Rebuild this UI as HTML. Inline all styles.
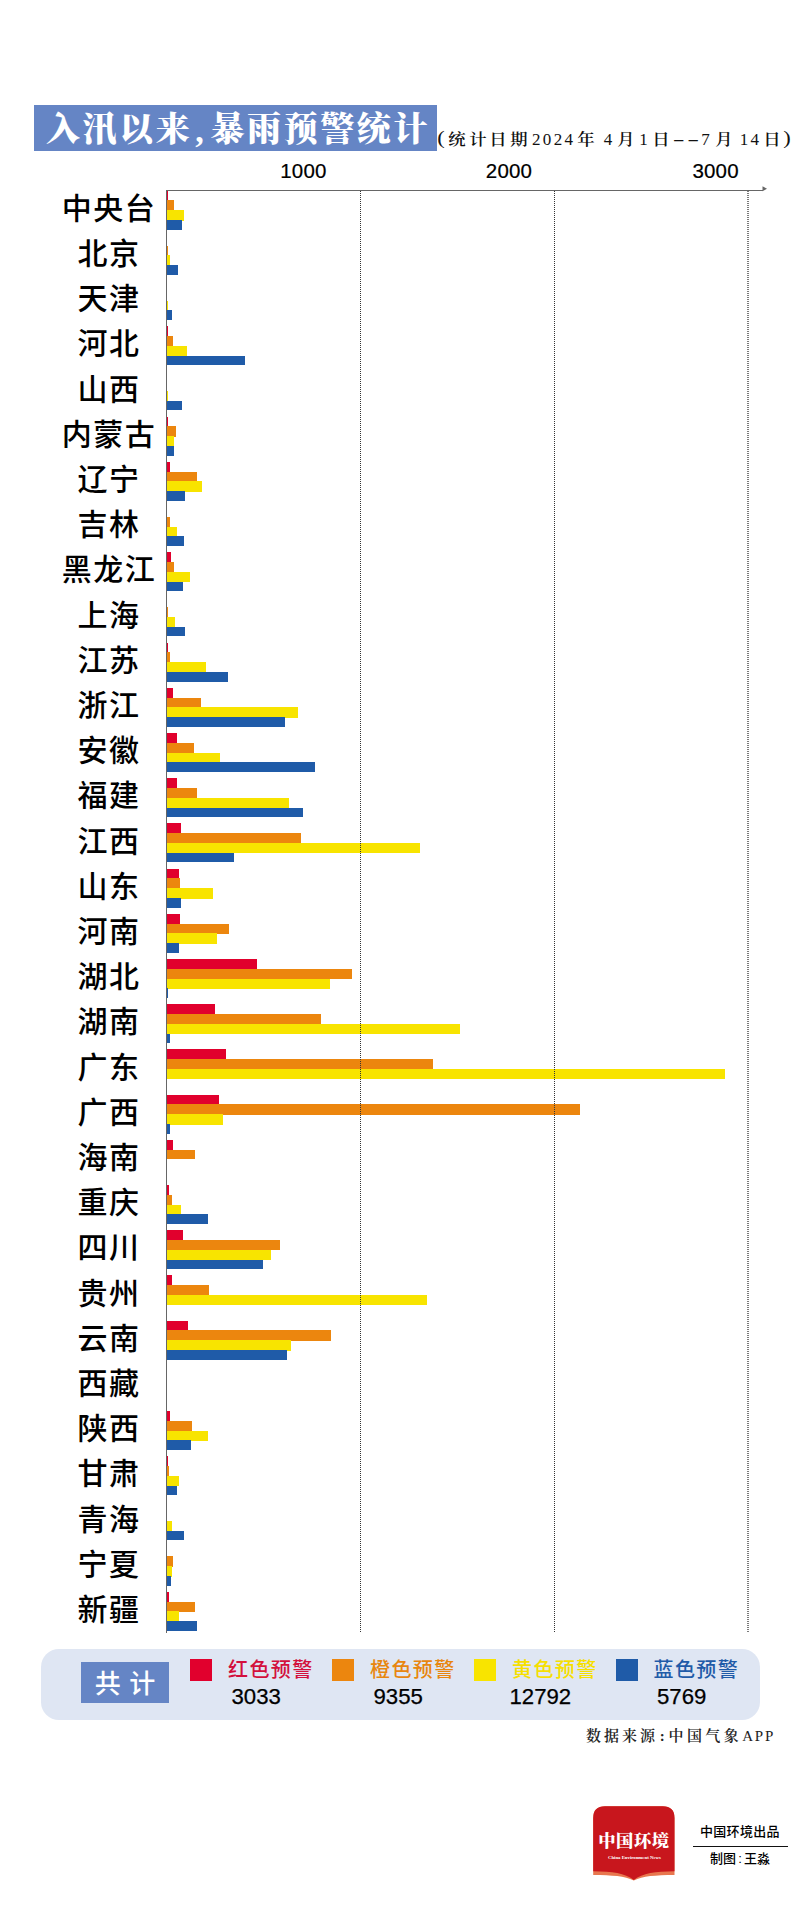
<!DOCTYPE html><html><head><meta charset="utf-8"><title>入汛以来,暴雨预警统计</title><style>
*{margin:0;padding:0;box-sizing:border-box}
html,body{width:800px;height:1927px;background:#fff;overflow:hidden}
body{position:relative;font-family:"Liberation Sans","Noto Sans CJK SC",sans-serif;color:#000}
.abs{position:absolute;white-space:nowrap}
.b{position:absolute;height:9.8px}
.lab{position:absolute;left:9px;width:200px;text-align:center;font-size:30px;font-weight:500;line-height:40px;letter-spacing:1.5px;white-space:nowrap;font-family:"Liberation Sans","Noto Sans CJK SC",sans-serif}
.tick{position:absolute;-webkit-text-stroke:0.2px #000;font-size:20.5px;letter-spacing:0.2px;line-height:20px;white-space:nowrap}
.grid{position:absolute;top:191px;height:1441px;width:0;border-left:1px dotted #333}
.serif{font-family:"Liberation Serif","Noto Serif CJK SC",serif}
.lg{position:absolute;font-size:20px;font-weight:500;line-height:24px;letter-spacing:1.4px;white-space:nowrap}
.num{position:absolute;-webkit-text-stroke:0.25px #000;font-size:22.2px;line-height:24px;white-space:nowrap}
.tk{position:absolute;top:0;transform:translateX(-50%);white-space:nowrap}
.sq{position:absolute;width:22px;height:22px;top:1659px}
</style></head><body>
<div class="abs" style="left:34px;top:105px;width:403px;height:46px;background:#6585c5"></div>
<div class="abs serif" id="title" style="left:46px;top:106.5px;height:46px;line-height:46px;font-size:34px;font-weight:900;color:#fff;letter-spacing:2.6px">入汛以来<span style="display:inline-block;width:18px;text-align:center;letter-spacing:0;margin-left:-2px;margin-right:2px;position:relative;top:1px">,</span>暴雨预警统计</div>
<div class="abs serif" id="sub" style="left:0;top:127.5px;width:800px;height:24px;line-height:24px;font-size:17px;color:#111"><span class="tk" style="left:441.25px;font-size:19.5px;top:-1.2px;transform:translateX(-50%) scaleX(1.15)">(</span><span class="tk" style="left:456.90px;font-size:15.5px;font-weight:600;transform:translateX(-50%) scaleX(1.12)">统</span><span class="tk" style="left:477.60px;font-size:15.5px;font-weight:600;transform:translateX(-50%) scaleX(1.12)">计</span><span class="tk" style="left:498.10px;font-size:15.5px;font-weight:600;transform:translateX(-50%) scaleX(1.12)">日</span><span class="tk" style="left:518.75px;font-size:15.5px;font-weight:600;transform:translateX(-50%) scaleX(1.12)">期</span><span class="tk" style="left:552.50px;letter-spacing:2.3px;padding-left:2.3px">2024</span><span class="tk" style="left:586.25px;font-size:15.5px;font-weight:600;transform:translateX(-50%) scaleX(1.12)">年</span><span class="tk" style="left:608.10px;letter-spacing:0.0px;padding-left:0.0px">4</span><span class="tk" style="left:625.50px;font-size:15.5px;font-weight:600;transform:translateX(-50%) scaleX(1.12)">月</span><span class="tk" style="left:643.50px;letter-spacing:0.0px;padding-left:0.0px">1</span><span class="tk" style="left:660.75px;font-size:15.5px;font-weight:600;transform:translateX(-50%) scaleX(1.12)">日</span><span class="tk" style="left:686.25px;transform:translateX(-50%) scaleX(2.1);letter-spacing:1.2px;padding-left:1.2px">--</span><span class="tk" style="left:705.50px;letter-spacing:0.0px;padding-left:0.0px">7</span><span class="tk" style="left:723.75px;font-size:15.5px;font-weight:600;transform:translateX(-50%) scaleX(1.12)">月</span><span class="tk" style="left:749.40px;letter-spacing:2.3px;padding-left:2.3px">14</span><span class="tk" style="left:771.75px;font-size:15.5px;font-weight:600;transform:translateX(-50%) scaleX(1.12)">日</span><span class="tk" style="left:786.90px;font-size:19.5px;top:-1.2px;transform:translateX(-50%) scaleX(1.15)">)</span></div>
<div class="tick" style="left:280.2px;top:161px">1000</div>
<div class="tick" style="left:485.8px;top:161px">2000</div>
<div class="tick" style="left:692.4px;top:161px">3000</div>
<div class="abs" style="left:166px;top:190px;width:1px;height:1443px;background:#666"></div>
<div class="abs" style="left:166px;top:190px;width:597px;height:1.2px;background:#666"></div>
<svg class="abs" style="left:760px;top:184px" width="10" height="10" viewBox="0 0 10 10"><polygon points="2.5,2.3 7,4.8 2.5,7.2" fill="#666"/></svg>
<div class="lab" style="top:188.7px">中央台</div>
<div class="b" style="left:166.5px;top:190.50px;width:1.50px;height:10.5px;background:#e1002d"></div>
<div class="b" style="left:166.5px;top:200.30px;width:7.25px;height:10.5px;background:#ec860e"></div>
<div class="b" style="left:166.5px;top:210.10px;width:17.50px;height:10.5px;background:#f8e400"></div>
<div class="b" style="left:166.5px;top:219.90px;width:15.50px;height:9.8px;background:#1f5ba8"></div>
<div class="lab" style="top:233.9px">北京</div>
<div class="b" style="left:166.5px;top:245.50px;width:1.50px;height:10.5px;background:#ec860e"></div>
<div class="b" style="left:166.5px;top:255.30px;width:3.50px;height:10.5px;background:#f8e400"></div>
<div class="b" style="left:166.5px;top:265.10px;width:11.25px;height:9.8px;background:#1f5ba8"></div>
<div class="lab" style="top:279.1px">天津</div>
<div class="b" style="left:166.5px;top:300.50px;width:1.00px;height:10.5px;background:#f8e400"></div>
<div class="b" style="left:166.5px;top:310.30px;width:5.25px;height:9.8px;background:#1f5ba8"></div>
<div class="lab" style="top:324.3px">河北</div>
<div class="b" style="left:166.5px;top:326.10px;width:1.25px;height:10.5px;background:#e1002d"></div>
<div class="b" style="left:166.5px;top:335.90px;width:6.50px;height:10.5px;background:#ec860e"></div>
<div class="b" style="left:166.5px;top:345.70px;width:20.50px;height:10.5px;background:#f8e400"></div>
<div class="b" style="left:166.5px;top:355.50px;width:78.50px;height:9.8px;background:#1f5ba8"></div>
<div class="lab" style="top:369.5px">山西</div>
<div class="b" style="left:166.5px;top:390.90px;width:1.50px;height:10.5px;background:#f8e400"></div>
<div class="b" style="left:166.5px;top:400.70px;width:15.50px;height:9.8px;background:#1f5ba8"></div>
<div class="lab" style="top:414.7px">内蒙古</div>
<div class="b" style="left:166.5px;top:416.50px;width:1.00px;height:10.5px;background:#e1002d"></div>
<div class="b" style="left:166.5px;top:426.30px;width:9.50px;height:10.5px;background:#ec860e"></div>
<div class="b" style="left:166.5px;top:436.10px;width:7.50px;height:10.5px;background:#f8e400"></div>
<div class="b" style="left:166.5px;top:445.90px;width:7.50px;height:9.8px;background:#1f5ba8"></div>
<div class="lab" style="top:459.9px">辽宁</div>
<div class="b" style="left:166.5px;top:461.70px;width:3.00px;height:10.5px;background:#e1002d"></div>
<div class="b" style="left:166.5px;top:471.50px;width:30.50px;height:10.5px;background:#ec860e"></div>
<div class="b" style="left:166.5px;top:481.30px;width:35.50px;height:10.5px;background:#f8e400"></div>
<div class="b" style="left:166.5px;top:491.10px;width:18.00px;height:9.8px;background:#1f5ba8"></div>
<div class="lab" style="top:505.1px">吉林</div>
<div class="b" style="left:166.5px;top:516.70px;width:3.25px;height:10.5px;background:#ec860e"></div>
<div class="b" style="left:166.5px;top:526.50px;width:10.00px;height:10.5px;background:#f8e400"></div>
<div class="b" style="left:166.5px;top:536.30px;width:17.50px;height:9.8px;background:#1f5ba8"></div>
<div class="lab" style="top:550.3px">黑龙江</div>
<div class="b" style="left:166.5px;top:552.10px;width:4.75px;height:10.5px;background:#e1002d"></div>
<div class="b" style="left:166.5px;top:561.90px;width:7.75px;height:10.5px;background:#ec860e"></div>
<div class="b" style="left:166.5px;top:571.70px;width:23.50px;height:10.5px;background:#f8e400"></div>
<div class="b" style="left:166.5px;top:581.50px;width:16.25px;height:9.8px;background:#1f5ba8"></div>
<div class="lab" style="top:595.5px">上海</div>
<div class="b" style="left:166.5px;top:607.10px;width:0.30px;height:10.5px;background:#ec860e"></div>
<div class="b" style="left:166.5px;top:616.90px;width:8.25px;height:10.5px;background:#f8e400"></div>
<div class="b" style="left:166.5px;top:626.70px;width:18.50px;height:9.8px;background:#1f5ba8"></div>
<div class="lab" style="top:640.7px">江苏</div>
<div class="b" style="left:166.5px;top:642.50px;width:0.30px;height:10.5px;background:#e1002d"></div>
<div class="b" style="left:166.5px;top:652.30px;width:3.75px;height:10.5px;background:#ec860e"></div>
<div class="b" style="left:166.5px;top:662.10px;width:39.00px;height:10.5px;background:#f8e400"></div>
<div class="b" style="left:166.5px;top:671.90px;width:61.00px;height:9.8px;background:#1f5ba8"></div>
<div class="lab" style="top:685.9px">浙江</div>
<div class="b" style="left:166.5px;top:687.70px;width:6.50px;height:10.5px;background:#e1002d"></div>
<div class="b" style="left:166.5px;top:697.50px;width:34.25px;height:10.5px;background:#ec860e"></div>
<div class="b" style="left:166.5px;top:707.30px;width:131.50px;height:10.5px;background:#f8e400"></div>
<div class="b" style="left:166.5px;top:717.10px;width:118.50px;height:9.8px;background:#1f5ba8"></div>
<div class="lab" style="top:731.1px">安徽</div>
<div class="b" style="left:166.5px;top:732.90px;width:10.50px;height:10.5px;background:#e1002d"></div>
<div class="b" style="left:166.5px;top:742.70px;width:27.00px;height:10.5px;background:#ec860e"></div>
<div class="b" style="left:166.5px;top:752.50px;width:53.50px;height:10.5px;background:#f8e400"></div>
<div class="b" style="left:166.5px;top:762.30px;width:148.50px;height:9.8px;background:#1f5ba8"></div>
<div class="lab" style="top:776.3px">福建</div>
<div class="b" style="left:166.5px;top:778.10px;width:10.50px;height:10.5px;background:#e1002d"></div>
<div class="b" style="left:166.5px;top:787.90px;width:30.25px;height:10.5px;background:#ec860e"></div>
<div class="b" style="left:166.5px;top:797.70px;width:122.50px;height:10.5px;background:#f8e400"></div>
<div class="b" style="left:166.5px;top:807.50px;width:136.50px;height:9.8px;background:#1f5ba8"></div>
<div class="lab" style="top:821.5px">江西</div>
<div class="b" style="left:166.5px;top:823.30px;width:14.50px;height:10.5px;background:#e1002d"></div>
<div class="b" style="left:166.5px;top:833.10px;width:134.50px;height:10.5px;background:#ec860e"></div>
<div class="b" style="left:166.5px;top:842.90px;width:253.50px;height:10.5px;background:#f8e400"></div>
<div class="b" style="left:166.5px;top:852.70px;width:67.75px;height:9.8px;background:#1f5ba8"></div>
<div class="lab" style="top:866.7px">山东</div>
<div class="b" style="left:166.5px;top:868.50px;width:12.50px;height:10.5px;background:#e1002d"></div>
<div class="b" style="left:166.5px;top:878.30px;width:13.50px;height:10.5px;background:#ec860e"></div>
<div class="b" style="left:166.5px;top:888.10px;width:46.25px;height:10.5px;background:#f8e400"></div>
<div class="b" style="left:166.5px;top:897.90px;width:14.00px;height:9.8px;background:#1f5ba8"></div>
<div class="lab" style="top:911.9px">河南</div>
<div class="b" style="left:166.5px;top:913.70px;width:13.50px;height:10.5px;background:#e1002d"></div>
<div class="b" style="left:166.5px;top:923.50px;width:62.75px;height:10.5px;background:#ec860e"></div>
<div class="b" style="left:166.5px;top:933.30px;width:50.25px;height:10.5px;background:#f8e400"></div>
<div class="b" style="left:166.5px;top:943.10px;width:12.25px;height:9.8px;background:#1f5ba8"></div>
<div class="lab" style="top:957.1px">湖北</div>
<div class="b" style="left:166.5px;top:958.90px;width:90.30px;height:10.5px;background:#e1002d"></div>
<div class="b" style="left:166.5px;top:968.70px;width:185.50px;height:10.5px;background:#ec860e"></div>
<div class="b" style="left:166.5px;top:978.50px;width:163.25px;height:10.5px;background:#f8e400"></div>
<div class="b" style="left:166.5px;top:988.30px;width:1.25px;height:9.8px;background:#1f5ba8"></div>
<div class="lab" style="top:1002.3px">湖南</div>
<div class="b" style="left:166.5px;top:1004.10px;width:48.60px;height:10.5px;background:#e1002d"></div>
<div class="b" style="left:166.5px;top:1013.90px;width:154.50px;height:10.5px;background:#ec860e"></div>
<div class="b" style="left:166.5px;top:1023.70px;width:293.50px;height:10.5px;background:#f8e400"></div>
<div class="b" style="left:166.5px;top:1033.50px;width:3.25px;height:9.8px;background:#1f5ba8"></div>
<div class="lab" style="top:1047.5px">广东</div>
<div class="b" style="left:166.5px;top:1049.30px;width:59.25px;height:10.5px;background:#e1002d"></div>
<div class="b" style="left:166.5px;top:1059.10px;width:266.00px;height:10.5px;background:#ec860e"></div>
<div class="b" style="left:166.5px;top:1068.90px;width:558.50px;height:9.8px;background:#f8e400"></div>
<div class="lab" style="top:1092.7px">广西</div>
<div class="b" style="left:166.5px;top:1094.50px;width:52.50px;height:10.5px;background:#e1002d"></div>
<div class="b" style="left:166.5px;top:1104.30px;width:413.50px;height:10.5px;background:#ec860e"></div>
<div class="b" style="left:166.5px;top:1114.10px;width:56.50px;height:10.5px;background:#f8e400"></div>
<div class="b" style="left:166.5px;top:1123.90px;width:3.00px;height:9.8px;background:#1f5ba8"></div>
<div class="lab" style="top:1137.9px">海南</div>
<div class="b" style="left:166.5px;top:1139.70px;width:6.00px;height:10.5px;background:#e1002d"></div>
<div class="b" style="left:166.5px;top:1149.50px;width:28.50px;height:9.8px;background:#ec860e"></div>
<div class="lab" style="top:1183.1px">重庆</div>
<div class="b" style="left:166.5px;top:1184.90px;width:2.50px;height:10.5px;background:#e1002d"></div>
<div class="b" style="left:166.5px;top:1194.70px;width:5.25px;height:10.5px;background:#ec860e"></div>
<div class="b" style="left:166.5px;top:1204.50px;width:14.50px;height:10.5px;background:#f8e400"></div>
<div class="b" style="left:166.5px;top:1214.30px;width:41.25px;height:9.8px;background:#1f5ba8"></div>
<div class="lab" style="top:1228.3px">四川</div>
<div class="b" style="left:166.5px;top:1230.10px;width:16.25px;height:10.5px;background:#e1002d"></div>
<div class="b" style="left:166.5px;top:1239.90px;width:113.50px;height:10.5px;background:#ec860e"></div>
<div class="b" style="left:166.5px;top:1249.70px;width:104.50px;height:10.5px;background:#f8e400"></div>
<div class="b" style="left:166.5px;top:1259.50px;width:96.25px;height:9.8px;background:#1f5ba8"></div>
<div class="lab" style="top:1273.5px">贵州</div>
<div class="b" style="left:166.5px;top:1275.30px;width:5.50px;height:10.5px;background:#e1002d"></div>
<div class="b" style="left:166.5px;top:1285.10px;width:42.75px;height:10.5px;background:#ec860e"></div>
<div class="b" style="left:166.5px;top:1294.90px;width:260.00px;height:9.8px;background:#f8e400"></div>
<div class="lab" style="top:1318.7px">云南</div>
<div class="b" style="left:166.5px;top:1320.50px;width:21.50px;height:10.5px;background:#e1002d"></div>
<div class="b" style="left:166.5px;top:1330.30px;width:164.00px;height:10.5px;background:#ec860e"></div>
<div class="b" style="left:166.5px;top:1340.10px;width:124.00px;height:10.5px;background:#f8e400"></div>
<div class="b" style="left:166.5px;top:1349.90px;width:120.00px;height:9.8px;background:#1f5ba8"></div>
<div class="lab" style="top:1363.9px">西藏</div>
<div class="lab" style="top:1409.1px">陕西</div>
<div class="b" style="left:166.5px;top:1410.90px;width:3.00px;height:10.5px;background:#e1002d"></div>
<div class="b" style="left:166.5px;top:1420.70px;width:25.00px;height:10.5px;background:#ec860e"></div>
<div class="b" style="left:166.5px;top:1430.50px;width:41.75px;height:10.5px;background:#f8e400"></div>
<div class="b" style="left:166.5px;top:1440.30px;width:24.75px;height:9.8px;background:#1f5ba8"></div>
<div class="lab" style="top:1454.3px">甘肃</div>
<div class="b" style="left:166.5px;top:1456.10px;width:1.50px;height:10.5px;background:#e1002d"></div>
<div class="b" style="left:166.5px;top:1465.90px;width:2.50px;height:10.5px;background:#ec860e"></div>
<div class="b" style="left:166.5px;top:1475.70px;width:12.25px;height:10.5px;background:#f8e400"></div>
<div class="b" style="left:166.5px;top:1485.50px;width:10.25px;height:9.8px;background:#1f5ba8"></div>
<div class="lab" style="top:1499.5px">青海</div>
<div class="b" style="left:166.5px;top:1520.90px;width:5.50px;height:10.5px;background:#f8e400"></div>
<div class="b" style="left:166.5px;top:1530.70px;width:17.75px;height:9.8px;background:#1f5ba8"></div>
<div class="lab" style="top:1544.7px">宁夏</div>
<div class="b" style="left:166.5px;top:1556.30px;width:6.25px;height:10.5px;background:#ec860e"></div>
<div class="b" style="left:166.5px;top:1566.10px;width:5.00px;height:10.5px;background:#f8e400"></div>
<div class="b" style="left:166.5px;top:1575.90px;width:4.25px;height:9.8px;background:#1f5ba8"></div>
<div class="lab" style="top:1589.9px">新疆</div>
<div class="b" style="left:166.5px;top:1591.70px;width:2.25px;height:10.5px;background:#e1002d"></div>
<div class="b" style="left:166.5px;top:1601.50px;width:28.75px;height:10.5px;background:#ec860e"></div>
<div class="b" style="left:166.5px;top:1611.30px;width:12.50px;height:10.5px;background:#f8e400"></div>
<div class="b" style="left:166.5px;top:1621.10px;width:30.50px;height:9.8px;background:#1f5ba8"></div>
<div class="grid" style="left:360px"></div>
<div class="grid" style="left:554px"></div>
<div class="grid" style="left:747px;border-left-color:#7a7a7a"></div><div class="grid" style="left:748px;border-left-color:#7a7a7a"></div>
<div class="abs" style="left:40.5px;top:1649px;width:719px;height:70.5px;border-radius:18px;background:#dfe6f3"></div>
<div class="abs" style="left:81px;top:1662px;width:88px;height:40.5px;background:#6585c5"></div>
<div class="abs" id="gj" style="left:94.8px;top:1663.7px;height:40.5px;line-height:40.5px;font-size:26px;font-weight:500;letter-spacing:8.4px;color:#fff">共计</div>
<div class="sq" style="left:190.0px;background:#e1002d"></div>
<div class="lg" style="left:228.0px;top:1658px;color:#d3103c">红色预警</div>
<div class="num" style="left:231.5px;top:1685px">3033</div>
<div class="sq" style="left:332.0px;background:#ec860e"></div>
<div class="lg" style="left:370.0px;top:1658px;color:#e8860f">橙色预警</div>
<div class="num" style="left:373.5px;top:1685px">9355</div>
<div class="sq" style="left:474.0px;background:#f8e400"></div>
<div class="lg" style="left:512.0px;top:1658px;color:#f6df00">黄色预警</div>
<div class="num" style="left:509.5px;top:1685px">12792</div>
<div class="sq" style="left:615.5px;background:#1f5ba8"></div>
<div class="lg" style="left:653.5px;top:1658px;color:#1f5ba8">蓝色预警</div>
<div class="num" style="left:657.0px;top:1685px">5769</div>
<div class="abs serif" id="src" style="left:586px;top:1724.5px;line-height:22px;font-size:15px;font-weight:600;letter-spacing:3px;color:#222">数据来源<span style="display:inline-block;width:10.5px;text-align:center;letter-spacing:0;padding-right:2px">:</span><span style="letter-spacing:3.4px">中国气象</span><span style="letter-spacing:1.8px;margin-left:0px;font-weight:400">APP</span></div>
<svg class="abs" style="left:590px;top:1803px" width="90" height="82" viewBox="590 1803 90 82">
<path d="M593.2 1818 Q593.2 1806.2 605 1806.2 L662.7 1806.2 Q674.5 1806.2 674.5 1818 L674.5 1875 C655 1875.2 643 1876 633.8 1880.4 C624.6 1876 612.6 1875.2 593.2 1875 Z" fill="#e8774f"/>
<path d="M593.2 1818 Q593.2 1806.2 605 1806.2 L662.7 1806.2 Q674.5 1806.2 674.5 1818 L674.5 1871.3 C655 1871.5 643 1873 633.8 1880 C624.6 1873 612.6 1871.5 593.2 1871.3 Z" fill="#c8161d"/>
<text x="633.9" y="1847" text-anchor="middle" font-family="'Liberation Serif','Noto Serif CJK SC',serif" font-weight="900" font-size="17.3" fill="#fff" letter-spacing="0.6">中国环境</text>
<text x="634.4" y="1859.2" text-anchor="middle" font-family="'Liberation Serif',serif" font-weight="700" font-size="4.8" fill="#fff">China Environment News</text>
</svg>
<div class="abs" id="cp" style="left:700px;top:1822px;line-height:20px;font-size:13px;font-weight:500;letter-spacing:0.3px">中国环境出品</div>
<div class="abs" style="left:692.7px;top:1845.8px;width:95px;height:1.6px;background:#111"></div>
<div class="abs" id="zt" style="left:710px;top:1848.5px;line-height:20px;font-size:13px;font-weight:500">制图<span style="display:inline-block;width:8px;text-align:center">:</span>王淼</div>
</body></html>
